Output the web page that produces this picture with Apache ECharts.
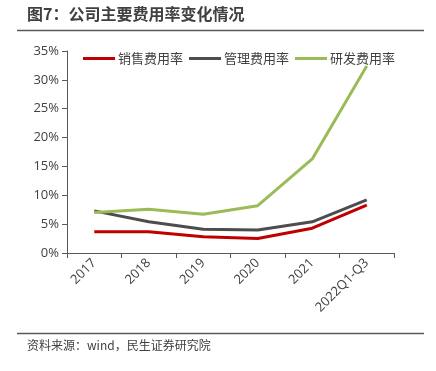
<!DOCTYPE html>
<html><head><meta charset="utf-8">
<script src="https://cdn.jsdelivr.net/npm/echarts@6/dist/echarts.min.js"></script>
<style>
html,body{margin:0;padding:0;background:#fff;}
#wrap{position:relative;width:436px;height:371px;}
#chart{position:absolute;left:0;top:0;width:436px;height:371px;}
</style></head>
<body><div id="wrap"><div id="chart"></div></div>
<script>
const categories = ['2017','2018','2019','2020','2021','2022Q1-Q3'];
const salesRate = [3.7, 3.7, 2.8, 2.5, 4.3, 8.3];
const mgmtRate = [7.3, 5.4, 4.1, 4.0, 5.4, 9.2];
const rdRate = [7.0, 7.6, 6.7, 8.2, 16.3, 32.4];
const seriesNames = ['销售费用率','管理费用率','研发费用率'];
const titleText = '图7：公司主要费用率变化情况';
const sourceText = '资料来源：wind，民生证券研究院';

const font = '"Noto Sans CJK SC", "Open Sans", sans-serif';
const numFont = '"Open Sans", "Noto Sans CJK SC", sans-serif';
const chart = echarts.init(document.getElementById('chart'));
chart.setOption({
  animation: false,
  backgroundColor: '#fff',
  graphic: [
    {type:'text', left: 27, top: 6, style:{text:titleText, font:'bold 16px ' + font, fill:'#404040'}},
    {type:'line', shape:{x1:17,y1:30.5,x2:424,y2:30.5}, style:{stroke:'#595959', lineWidth:1.5}},
    {type:'line', shape:{x1:17,y1:333.5,x2:424,y2:333.5}, style:{stroke:'#595959', lineWidth:1.5}},
    {type:'text', left: 27, top: 339, style:{text:sourceText, font:'12px ' + font, fill:'#404040'}}
  ],
  legend: {
    top: 52, left: 83, padding: 0,
    itemWidth: 32, itemHeight: 3, itemGap: 6,
    icon: 'rect',
    textStyle: {fontSize: 13, color: '#404040', fontFamily: font, padding:[0,0,0,-2]},
    data: seriesNames
  },
  grid: {left: 67, right: 42, top: 51, bottom: 118, containLabel: false},
  xAxis: {
    type: 'category', data: categories, boundaryGap: true,
    axisLine: {lineStyle: {color: '#595959', width: 1}},
    axisTick: {show: true, alignWithLabel: false, length: 5, lineStyle:{color:'#595959'}},
    axisLabel: {rotate: 45, fontSize: 13, color: '#404040', fontFamily: numFont, margin: 8, interval: 0}
  },
  yAxis: {
    type: 'value', min: 0, max: 35, interval: 5,
    axisLine: {show: true, lineStyle: {color: '#595959', width: 1}},
    axisTick: {show: true, length: 5, inside: false, lineStyle:{color:'#595959'}},
    splitLine: {show: false},
    axisLabel: {formatter: '{value}%', fontSize: 13, color: '#404040', fontFamily: numFont, margin: 8}
  },
  series: [
    {name: seriesNames[0], type: 'line', data: salesRate, showSymbol: false, symbol:'none', lineStyle: {width: 3, color: '#C00000'}, itemStyle:{color:'#C00000'}},
    {name: seriesNames[1], type: 'line', data: mgmtRate, showSymbol: false, symbol:'none', lineStyle: {width: 3, color: '#4D4D4D'}, itemStyle:{color:'#4D4D4D'}},
    {name: seriesNames[2], type: 'line', data: rdRate, showSymbol: false, symbol:'none', lineStyle: {width: 3, color: '#9BBB59'}, itemStyle:{color:'#9BBB59'}}
  ]
});
</script></body></html>
